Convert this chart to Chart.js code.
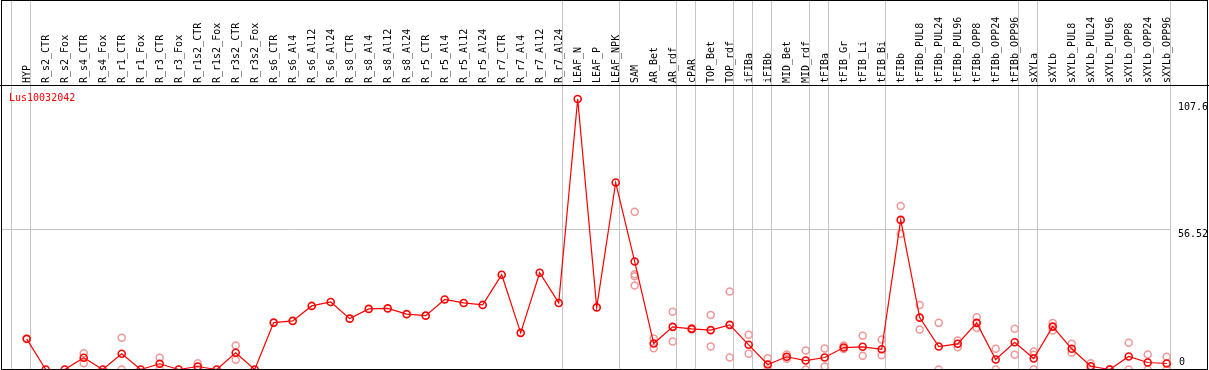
<!DOCTYPE html>
<html>
<head>
<meta charset="utf-8">
<script src="https://cdn.jsdelivr.net/npm/chart.js@4/dist/chart.umd.min.js"></script>
<style>
  html, body { margin: 0; padding: 0; background: #fff; }
  #wrap { width: 1209px; height: 370px; position: relative; }
</style>
</head>
<body>
<div id="wrap"><canvas id="exprChart"></canvas></div>
<script>
const geneId = 'Lus10032042';

const samples = [
  'HYP', 'R_s2_CTR', 'R_s2_Fox', 'R_s4_CTR', 'R_s4_Fox', 'R_r1_CTR', 'R_r1_Fox', 'R_r3_CTR', 'R_r3_Fox', 'R_r1s2_CTR',
  'R_r1s2_Fox', 'R_r3s2_CTR', 'R_r3s2_Fox', 'R_s6_CTR', 'R_s6_Al4', 'R_s6_Al12', 'R_s6_Al24', 'R_s8_CTR', 'R_s8_Al4', 'R_s8_Al12',
  'R_s8_Al24', 'R_r5_CTR', 'R_r5_Al4', 'R_r5_Al12', 'R_r5_Al24', 'R_r7_CTR', 'R_r7_Al4', 'R_r7_Al12', 'R_r7_Al24', 'LEAF_N',
  'LEAF_P', 'LEAF_NPK', 'SAM', 'AR_Bet', 'AR_rdf', 'cPAR', 'TOP_Bet', 'TOP_rdf', 'iFIBa', 'iFIBb',
  'MID_Bet', 'MID_rdf', 'tFIBa', 'tFIB_Gr', 'tFIB_Li', 'tFIB_Bi', 'tFIBb', 'tFIBb_PUL8', 'tFIBb_PUL24', 'tFIBb_PUL96',
  'tFIBb_OPP8', 'tFIBb_OPP24', 'tFIBb_OPP96', 'sXYLa', 'sXYLb', 'sXYLb_PUL8', 'sXYLb_PUL24', 'sXYLb_PUL96', 'sXYLb_OPP8', 'sXYLb_OPP24',
  'sXYLb_OPP96'
];

// mean expression per sample
const meanExpr = [
  12.3, 0, 0, 4.7, 0, 6.3, 0, 2.3, 0, 1.2,
  0, 6.7, 0, 18.8, 19.5, 25.5, 27.1, 20.4, 24.3, 24.5,
  22.2, 21.6, 28.1, 26.7, 25.9, 38.0, 14.7, 38.8, 26.7, 108.5,
  24.9, 75.0, 43.3, 10.4, 17.1, 16.3, 15.8, 17.9, 9.9, 2.0,
  5.1, 3.6, 4.8, 8.8, 9.1, 8.1, 60.0, 20.8, 9.2, 10.3,
  18.7, 4.0, 10.9, 4.4, 17.2, 8.3, 1.3, 0, 5.2, 2.8,
  2.4
];

// individual replicates
const repA = [
  12.3, null, null, 6.5, null, 12.7, null, 4.7, null, 2.5,
  null, 9.6, null, null, null, null, null, null, null, null,
  null, null, null, null, null, null, null, null, null, null,
  null, null, 63.3, 12.4, 23.2, 16.5, 21.9, 31.3, 13.9, 4.5,
  6.0, 7.6, 8.4, 9.6, 13.5, 12.0, 65.6, 25.9, 18.7, 11.6,
  21.0, 8.3, 16.3, 7.2, 18.6, 10.3, 2.5, 0, 10.7, 6.0,
  5.1
];
const repB = [
  null, null, null, 2.5, null, 0, null, 0, null, 0,
  null, 3.9, null, null, null, null, null, null, null, null,
  null, null, null, null, null, null, null, null, null, null,
  null, null, 33.7, 8.5, 11.2, 16.0, 9.2, 4.8, 6.3, 0,
  4.3, 0, 1.2, 8.2, 5.5, 5.7, 54.4, 16.0, 0, 8.9,
  16.6, 0, 5.9, 5.9, 15.6, 6.7, 0, 0, 0, 0,
  0
];
const repC = [
  null, null, null, null, null, null, null, null, null, null,
  null, null, null, null, null, null, null, null, null, null,
  null, null, null, null, null, null, null, null, null, null,
  null, null, 38.2, null, null, null, null, null, null, null,
  null, null, null, null, null, null, null, null, null, null,
  null, null, null, 0, null, null, null, null, null, null,
  null
];
const repD = [
  null, null, null, null, null, null, null, null, null, null,
  null, null, null, null, null, null, null, null, null, null,
  null, null, null, null, null, null, null, null, null, null,
  null, null, 37.4, null, null, null, null, null, null, null,
  null, null, null, null, null, null, null, null, null, null,
  null, null, null, null, null, null, null, null, null, null,
  null
];

const yTicks = [0, 56.52, 107.6];
// last sample index of each group (-1 = left edge)
const groupEnds = [-1, 0, 28, 31, 34, 35, 37, 38, 39, 41, 42, 45, 52, 53, 60];

const FONT = '10px "DejaVu Sans Mono", "Liberation Mono", monospace';

const framePlugin = {
  id: 'frame',
  beforeDraw(chart) {
    const { ctx, scales: { x, y } } = chart;
    ctx.save();
    ctx.fillStyle = '#fff';
    ctx.fillRect(0, 0, chart.width, chart.height);
    ctx.strokeStyle = '#c4c4c4';
    ctx.lineWidth = 1;
    groupEnds.forEach(i => {
      const px = Math.round(x.getPixelForValue(i + 0.18)) + 0.5;
      ctx.beginPath();
      ctx.moveTo(px, 0);
      ctx.lineTo(px, chart.height);
      ctx.stroke();
    });
    const gy = Math.round(y.getPixelForValue(yTicks[1])) + 0.5;
    ctx.beginPath();
    ctx.moveTo(1, gy);
    ctx.lineTo(x.getPixelForValue(60.18), gy);
    ctx.stroke();
    ctx.restore();
  },
  afterDraw(chart) {
    const { ctx, scales: { y } } = chart;
    ctx.save();
    ctx.strokeStyle = '#000';
    ctx.lineWidth = 1;
    ctx.strokeRect(1.5, 0.5, 1206, 369);
    ctx.beginPath();
    ctx.moveTo(0, 85.5);
    ctx.lineTo(chart.width, 85.5);
    ctx.stroke();

    ctx.font = FONT;
    ctx.fillStyle = '#000';
    ctx.textAlign = 'left';
    yTicks.forEach(v => {
      const py = y.getPixelForValue(v);
      if (v === 0) {
        ctx.textBaseline = 'bottom';
        ctx.fillText('0', 1179, py - 2);
      } else {
        ctx.textBaseline = 'top';
        ctx.fillText(String(v), 1178, py + 1);
      }
    });

    ctx.fillStyle = '#ff0000';
    ctx.textBaseline = 'alphabetic';
    ctx.fillText(geneId, 9, 101);
    ctx.restore();
  }
};

const repStyle = {
  type: 'line',
  showLine: false,
  pointRadius: 3.5,
  pointBorderWidth: 1.5,
  pointBorderColor: '#f09898',
  pointBackgroundColor: 'rgba(0,0,0,0)',
  clip: false
};

new Chart(document.getElementById('exprChart'), {
  type: 'line',
  data: {
    labels: samples,
    datasets: [
      {
        data: meanExpr,
        borderColor: '#ff0000',
        borderWidth: 1.2,
        tension: 0,
        pointRadius: 3.5,
        pointBorderWidth: 1.6,
        pointBorderColor: '#ff0000',
        pointBackgroundColor: 'rgba(0,0,0,0)',
        clip: false
      },
      Object.assign({ data: repA }, repStyle),
      Object.assign({ data: repB }, repStyle),
      Object.assign({ data: repC }, repStyle),
      Object.assign({ data: repD }, repStyle)
    ]
  },
  options: {
    responsive: true,
    maintainAspectRatio: false,
    animation: false,
    events: [],
    layout: { autoPadding: false, padding: { left: 26.7, right: 42.3, top: 0, bottom: 0.5 } },
    plugins: { legend: { display: false }, tooltip: { enabled: false } },
    scales: {
      x: {
        position: 'top',
        offset: false,
        grid: { display: false, drawTicks: false },
        border: { display: false },
        ticks: {
          autoSkip: false,
          minRotation: 90,
          maxRotation: 90,
          padding: 3,
          labelOffset: 13,
          color: '#000',
          font: { family: '"DejaVu Sans Mono", "Liberation Mono", monospace', size: 10 }
        },
        afterFit(scale) { scale.height = 86; }
      },
      y: {
        display: false,
        min: 0,
        max: 113.7
      }
    }
  },
  plugins: [framePlugin]
});
</script>
</body>
</html>
